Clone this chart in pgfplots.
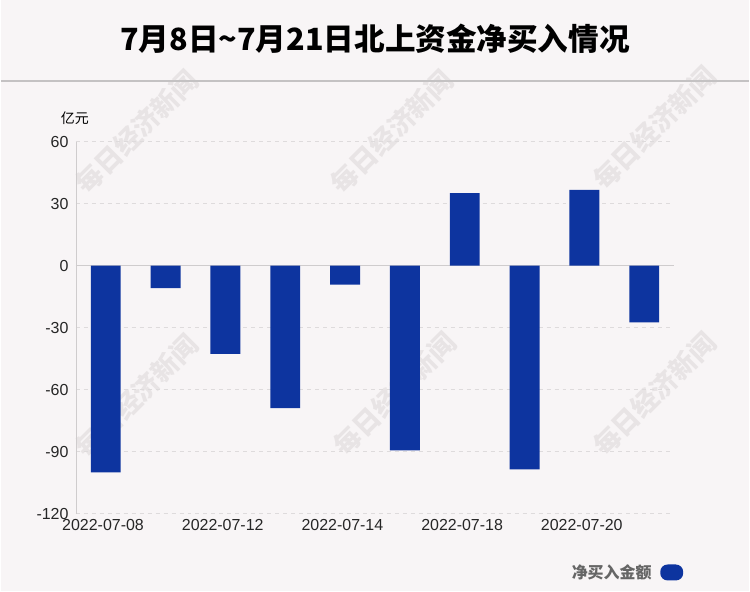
\documentclass[border=0pt]{standalone}
\usepackage{fontspec}
\setmainfont{Liberation Sans}
\newfontfamily\cjk{Noto Sans CJK SC}
\usepackage{pgfplots}
\pgfplotsset{compat=1.18}
\definecolor{bg}{HTML}{F8F5F6}
\definecolor{barblue}{HTML}{0D349F}
\definecolor{wm}{HTML}{E8E4E5}
\definecolor{gridc}{HTML}{DEDBDC}
\definecolor{axc}{HTML}{CFCCCD}
\definecolor{rule}{HTML}{C4C2C3}

\begin{document}
\begin{tikzpicture}[x=0.75pt,y=0.75pt]
\fill[bg] (0,0) rectangle (750,593);
% watermarks
\foreach \px/\py in {136/461,392/461,655/465,136/196,395/198,655/198}
  \node[rotate=45, text=wm, font=\cjk\bfseries\fontsize{20}{20}\selectfont] at (\px,\py) {每日经济新闻};
% title
\node[font=\cjk\bfseries\fontsize{23}{23}\selectfont] at (375,554) {7月8日\textasciitilde7月21日北上资金净买入情况};
\draw[rule, line width=1.5pt] (0,512) -- (750,512);
% unit
\node[font=\cjk\fontsize{10.5}{10.5}\selectfont, anchor=base] at (74,469) {亿元};

\begin{axis}[
    at={(56.25pt,58.5pt)}, anchor=south west,
    scale only axis, width=450pt, height=279.75pt,
    xmin=-0.5, xmax=9.5, ymin=-120, ymax=60,
    xtick={0,2,4,6,8},
    xticklabels={2022-07-08,2022-07-12,2022-07-14,2022-07-18,2022-07-20},
    ytick={-120,-90,-60,-30,0,30,60},
    major tick length=0pt,
    axis lines=left,
    x axis line style={draw=none},
    y axis line style={draw=axc, -},
    ymajorgrids, grid style={gridc, dash pattern=on 3pt off 3pt},
    extra y ticks={0}, extra y tick labels={},
    extra y tick style={grid style={axc, solid, line width=1pt}},
    tick label style={font=\fontsize{12}{12}\selectfont, text=black!85},
    /pgf/number format/assume math mode=true,
    yticklabel style={xshift=-2pt},
    xticklabel style={yshift=-1pt, xshift=-2pt},
]
\addplot[ybar, bar width=22.5pt, bar shift=0pt, fill=barblue, draw=none]
  coordinates {(0,-100.0) (1,-10.9) (2,-42.7) (3,-68.9) (4,-9.2)
               (5,-89.4) (6,35.1) (7,-98.6) (8,36.6) (9,-27.5)};
\end{axis}

% legend
\node[font=\cjk\bfseries\fontsize{12}{12}\selectfont, text=black!60, anchor=east] at (657,19) {净买入金额};
\fill[barblue, rounded corners=5.5pt] (661,11) rectangle (684,27);
\end{tikzpicture}
\end{document}
